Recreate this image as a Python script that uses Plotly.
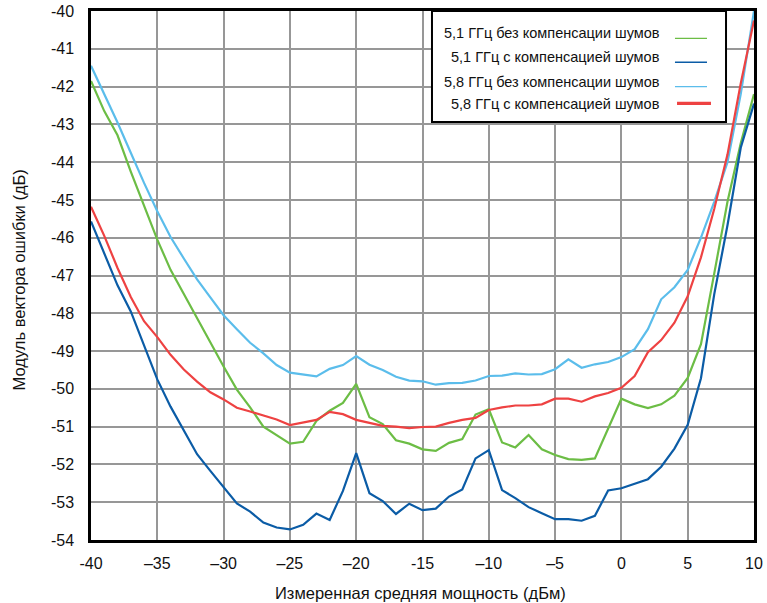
import plotly.graph_objects as go

# ---- data ----
power_dbm = list(range(-40, 11))

evm_51_no_comp = [-41.85, -42.65, -43.29, -44.25, -45.15, -46.05, -46.85, -47.5, -48.12, -48.77,
                  -49.41, -50.02, -50.49, -51.0, -51.22, -51.45, -51.4, -50.85, -50.58, -50.37,
                  -49.87, -50.75, -50.93, -51.36, -51.45, -51.6, -51.64, -51.43, -51.33, -50.68,
                  -50.54, -51.42, -51.55, -51.22, -51.6, -51.75, -51.86, -51.88, -51.84, -51.05,
                  -50.26, -50.41, -50.51, -50.41, -50.18, -49.71, -48.82, -46.95, -45.05, -43.5,
                  -42.2]

evm_51_comp = [-45.57, -46.4, -47.26, -47.95, -48.85, -49.75, -50.47, -51.1, -51.73, -52.17,
               -52.6, -53.03, -53.25, -53.54, -53.67, -53.72, -53.6, -53.3, -53.47, -52.7,
               -51.7, -52.76, -52.97, -53.31, -53.04, -53.21, -53.17, -52.85, -52.66, -51.84,
               -51.62, -52.68, -52.89, -53.13, -53.29, -53.45, -53.45, -53.49, -53.36, -52.69,
               -52.63, -52.5, -52.39, -52.06, -51.58, -50.95, -49.72, -47.5, -45.67, -43.62,
               -42.45]

evm_58_no_comp = [-41.45, -42.2, -42.95, -43.75, -44.55, -45.3, -45.98, -46.55, -47.1, -47.58,
                  -48.05, -48.42, -48.78, -49.06, -49.37, -49.57, -49.62, -49.67, -49.47, -49.37,
                  -49.13, -49.36, -49.5, -49.68, -49.78, -49.8, -49.89, -49.85, -49.84, -49.78,
                  -49.66, -49.65, -49.59, -49.62, -49.61, -49.48, -49.22, -49.44, -49.35, -49.29,
                  -49.16, -48.95, -48.42, -47.63, -47.31, -46.85, -46.0, -45.05, -44.0, -42.2,
                  -40.0]

evm_58_comp = [-45.18, -45.95, -46.8, -47.57, -48.21, -48.63, -49.1, -49.49, -49.81, -50.09,
               -50.28, -50.5, -50.6, -50.7, -50.81, -50.96, -50.9, -50.82, -50.61, -50.67,
               -50.82, -50.91, -50.98, -51.0, -51.04, -51.01, -51.0, -50.9, -50.82, -50.77,
               -50.56, -50.49, -50.44, -50.44, -50.41, -50.26, -50.26, -50.34, -50.2, -50.11,
               -49.97, -49.66, -49.03, -48.71, -48.25, -47.55, -46.52, -45.24, -43.8, -41.92,
               -40.25]

series_names = ["5,1 ГГц без компенсации шумов", "5,1 ГГц с компенсацией шумов",
                "5,8 ГГц без компенсации шумов", "5,8 ГГц с компенсацией шумов"]
series_values = [evm_51_no_comp, evm_51_comp, evm_58_no_comp, evm_58_comp]
series_colors = ["#6cbd45", "#0b5ca6", "#5bbdeb", "#ee4242"]
legend_widths = [1.3, 1.6, 1.3, 3.2]

x_tickvals = [-40, -35, -30, -25, -20, -15, -10, -5, 0, 5, 10]
x_ticktext = ["-40", "–35", "–30", "–25", "–20", "-15", "–10", "–5", "0", "5", "10"]
y_tickvals = list(range(-54, -39))
y_ticktext = ["-%d" % (-v) for v in y_tickvals]

x_title = "Измеренная средняя мощность (дБм)"
y_title = "Модуль вектора ошибки (дБ)"

FONT = "Liberation Sans, Arial, sans-serif"

fig = go.Figure()
for name, vals, col in zip(series_names, series_values, series_colors):
    fig.add_trace(go.Scatter(x=power_dbm, y=vals, mode="lines", name=name,
                             line=dict(color=col, width=2.2), showlegend=False))

# ---- manual legend (box with text on the left, line sample on the right) ----
shapes = [dict(type="rect", xref="paper", yref="paper", x0=0.5143, x1=0.9578, y0=0.7902, y1=1.0,
               fillcolor="white", line=dict(color="black", width=2), layer="above")]
annotations = []
row_text_y = [0.9578, 0.9125, 0.8652, 0.8246]
row_line_y = [0.9484, 0.9030, 0.8569, 0.8255]
for i, (name, col, lw) in enumerate(zip(series_names, series_colors, legend_widths)):
    x0, x1 = (0.8808, 0.9291) if i < 3 else (0.8839, 0.9351)
    shapes.append(dict(type="line", xref="paper", yref="paper", x0=x0, x1=x1,
                       y0=row_line_y[i], y1=row_line_y[i], line=dict(color=col, width=lw),
                       layer="above"))
    annotations.append(dict(xref="paper", yref="paper", x=0.8612, y=row_text_y[i],
                            xanchor="right", yanchor="middle", showarrow=False, text=name,
                            font=dict(family=FONT, size=14.5, color="#111")))

annotations.append(dict(xref="paper", yref="paper", x=0.4977, y=-0.1002, xanchor="center",
                        yanchor="middle", showarrow=False, text=x_title,
                        font=dict(family=FONT, size=16.5, color="#111")))
annotations.append(dict(xref="paper", yref="paper", x=-0.108, y=0.4915, xanchor="center",
                        yanchor="middle", showarrow=False, text=y_title, textangle=-90,
                        font=dict(family=FONT, size=16.5, color="#111")))

fig.update_layout(
    width=767, height=603,
    margin=dict(l=91, r=13, t=11, b=63, pad=0),
    paper_bgcolor="white", plot_bgcolor="white",
    font=dict(family=FONT, size=16, color="#111"),
    shapes=shapes, annotations=annotations,
    showlegend=False,
)
fig.update_xaxes(range=[-40, 10], tickvals=x_tickvals, ticktext=x_ticktext, automargin=False,
                 showgrid=True, gridcolor="#979797", gridwidth=2,
                 showline=True, linecolor="black", linewidth=2.5, mirror=True,
                 zeroline=False, ticks="", ticklabelstandoff=7,
                 tickfont=dict(family=FONT, size=16, color="#111"))
fig.update_yaxes(range=[-54, -40], tickvals=y_tickvals, ticktext=y_ticktext, automargin=False,
                 showgrid=True, gridcolor="#979797", gridwidth=2,
                 showline=True, linecolor="black", linewidth=2.5, mirror=True,
                 zeroline=False, ticks="", ticklabelstandoff=11,
                 tickfont=dict(family=FONT, size=16, color="#111"))

fig.write_html("out.html")
